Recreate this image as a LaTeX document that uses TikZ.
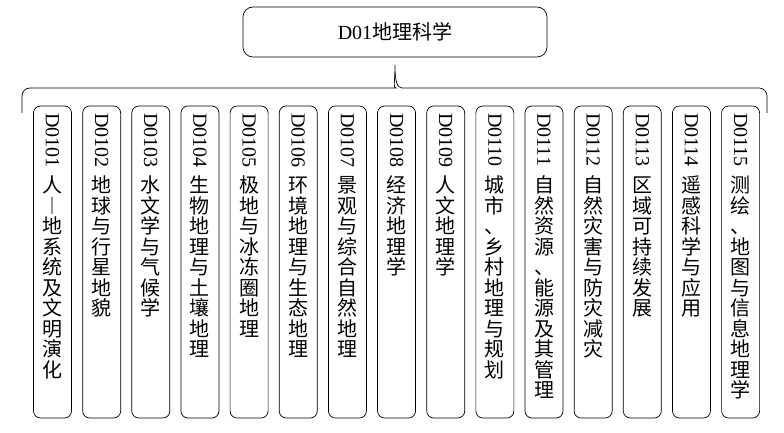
\documentclass[tikz,border=0pt]{standalone}
\usepackage{fontspec}
\setmainfont{Liberation Serif}
\newfontfamily\cjk{Noto Sans CJK SC}

\tikzset{
  rootbox/.style={draw, rounded corners=10pt, line width=0.7pt, minimum width=304pt, minimum height=50pt},
  subbox/.style={draw, rounded corners=7pt, line width=0.7pt, minimum width=38pt, minimum height=312pt},
  codetext/.style={rotate=-90, anchor=west, inner sep=0pt},
  chartext/.style={inner sep=0pt, text height=16pt, text depth=2pt, font=\fontsize{20}{24}\cjk}
}

\begin{document}
\begin{tikzpicture}[x=1pt, y=1pt, font=\fontsize{20}{24}\selectfont]
\useasboundingbox (0,0) rectangle (784,433);

% Top box
\node[rootbox] (root) at (395,401) {D01{\cjk 地理科学}};

% Brace
\coordinate (tip) at (395,368);
\draw[line width=0.7pt] (22,320) [rounded corners=8pt] |- (388,345) [sharp corners]
    .. controls (393,345) and (395,352) .. (tip)
    .. controls (395,352) and (397,345) .. (402,345) [rounded corners=8pt] -| (767,320);

% Sub-disciplines
\foreach \chars [count=\k] in {
    {人,︱,地,系,统,及,文,明,演,化},
    {地,球,与,行,星,地,貌},
    {水,文,学,与,气,候,学},
    {生,物,地,理,与,土,壤,地,理},
    {极,地,与,冰,冻,圈,地,理},
    {环,境,地,理,与,生,态,地,理},
    {景,观,与,综,合,自,然,地,理},
    {经,济,地,理,学},
    {人,文,地,理,学},
    {城,市,、,乡,村,地,理,与,规,划},
    {自,然,资,源,、,能,源,及,其,管,理},
    {自,然,灾,害,与,防,灾,减,灾},
    {区,域,可,持,续,发,展},
    {遥,感,科,学,与,应,用},
    {测,绘,、,地,图,与,信,息,地,理,学}}
{
    \pgfmathsetmacro{\x}{52.5+(\k-1)*49.15}
    \node[subbox] (b\k) at (\x,171) {};
    \node[codetext] (d\k) at (\x,320) {D01\ifnum\k<10 0\fi\k};
    \foreach \c [count=\j] in \chars {
        \pgfmathsetmacro{\y}{247-(\j-1)*20.5}
        \node[chartext] (c\k-\j) at (\x,\y) {\c};
    }
}
\end{tikzpicture}
\end{document}
